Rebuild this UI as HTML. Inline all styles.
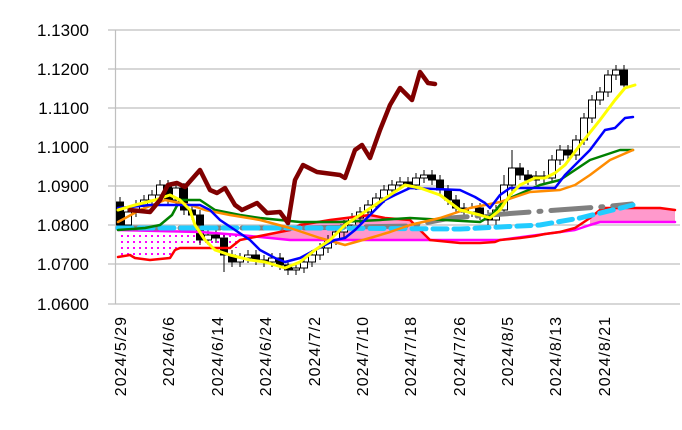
<!DOCTYPE html>
<html><head><meta charset="utf-8"><style>
body{margin:0;background:#fff}
svg{display:block}
text{font-family:"Liberation Sans",sans-serif;fill:#000}
</style></head><body>
<svg width="682" height="430" xmlns="http://www.w3.org/2000/svg">
<defs>
<pattern id="dots" width="6" height="6" patternUnits="userSpaceOnUse"><rect width="6" height="6" fill="#fff"/><rect x="1" y="1" width="2" height="2" fill="#ff00ff"/></pattern>
</defs>
<g stroke="#bfbfbf" stroke-width="1.2">
<line x1="108" y1="30" x2="680" y2="30"/><line x1="108" y1="69" x2="680" y2="69"/>
<line x1="108" y1="108" x2="680" y2="108"/><line x1="108" y1="147" x2="680" y2="147"/>
<line x1="108" y1="186" x2="680" y2="186"/><line x1="108" y1="225" x2="680" y2="225"/>
<line x1="108" y1="264" x2="680" y2="264"/><line x1="108" y1="304" x2="680" y2="304"/>
<line x1="115.5" y1="30" x2="115.5" y2="304"/>
</g>
<g font-size="17" text-anchor="end">
<text x="89" y="36">1.1300</text><text x="89" y="75">1.1200</text><text x="89" y="114">1.1100</text>
<text x="89" y="153">1.1000</text><text x="89" y="192">1.0900</text><text x="89" y="231">1.0800</text>
<text x="89" y="270">1.0700</text><text x="89" y="310">1.0600</text>
</g>
<g font-size="16" text-anchor="end" letter-spacing="1">
<text transform="translate(126,316) rotate(-90)">2024/5/29</text>
<text transform="translate(174,316) rotate(-90)">2024/6/6</text>
<text transform="translate(223,316) rotate(-90)">2024/6/14</text>
<text transform="translate(271,316) rotate(-90)">2024/6/24</text>
<text transform="translate(320,316) rotate(-90)">2024/7/2</text>
<text transform="translate(368,316) rotate(-90)">2024/7/10</text>
<text transform="translate(416,316) rotate(-90)">2024/7/18</text>
<text transform="translate(465,316) rotate(-90)">2024/7/26</text>
<text transform="translate(513,316) rotate(-90)">2024/8/5</text>
<text transform="translate(561,316) rotate(-90)">2024/8/13</text>
<text transform="translate(610,316) rotate(-90)">2024/8/21</text>
</g>
<polygon fill="url(#dots)" points="118,230 230,232 240,236 240,248 180,248 175,250 170,258 150,260 135,258 130,255 118,257"/>
<polygon fill="#ff99cc" points="240,236 260,236 290,230 300,225 330,220 370,215 385,218 410,220 430,240 355,240 290,240"/>
<polygon fill="#ff99cc" points="590,218 600,210 605,208 660,208 675,210 675,222 600,222 590,225"/>
<path stroke="#000" stroke-width="1" fill="none" d="M120 197V230M128 207V230M136 200V217M144 195V210M152 190V205M160 180V195M168 180V205M176 183V205M184 183V215M192 205V220M200 210V245M208 230V245M216 230V243M224 233V272M232 250V267M240 253V267M248 250V263M256 250V265M264 255V267M272 253V267M280 253V270M288 260V275M296 263V275M304 257V273M312 250V267M320 243V260M328 235V253M336 227V245M344 220V237M352 213V230M360 207V223M368 200V217M376 193V210M384 185V203M392 180V195M400 177V190M408 177V190M416 173V190M424 170V183M432 170V185M440 175V195M448 185V205M456 195V213M464 203V217M472 203V217M480 203V220M488 210V225M496 205V225M504 175V215M512 150V195M520 163V180M528 170V185M536 171V185M544 171V183M552 155V183M560 145V165M568 145V160M576 135V160M584 113V145M592 95V123M600 87V105M608 70V97M616 65V80M624 65V90"/>
<g stroke="#000" stroke-width="1">
<rect x="116.5" y="202" width="7" height="23" fill="#000"/>
<rect x="124.5" y="212" width="7" height="13" fill="#fff"/>
<rect x="132.5" y="205" width="7" height="7" fill="#fff"/>
<rect x="140.5" y="200" width="7" height="5" fill="#fff"/>
<rect x="148.5" y="195" width="7" height="5" fill="#fff"/>
<rect x="156.5" y="185" width="7" height="10" fill="#fff"/>
<rect x="164.5" y="185" width="7" height="15" fill="#000"/>
<rect x="172.5" y="188" width="7" height="12" fill="#fff"/>
<rect x="180.5" y="188" width="7" height="22" fill="#000"/>
<rect x="188.5" y="210" width="7" height="5" fill="#000"/>
<rect x="196.5" y="215" width="7" height="25" fill="#000"/>
<rect x="204.5" y="235" width="7" height="5" fill="#fff"/>
<rect x="212.5" y="235" width="7" height="3" fill="#000"/>
<rect x="220.5" y="238" width="7" height="17" fill="#000"/>
<rect x="228.5" y="255" width="7" height="7" fill="#000"/>
<rect x="236.5" y="258" width="7" height="4" fill="#fff"/>
<rect x="244.5" y="255" width="7" height="3" fill="#fff"/>
<rect x="252.5" y="255" width="7" height="5" fill="#000"/>
<rect x="260.5" y="260" width="7" height="2" fill="#000"/>
<rect x="268.5" y="258" width="7" height="4" fill="#fff"/>
<rect x="276.5" y="258" width="7" height="7" fill="#000"/>
<rect x="284.5" y="265" width="7" height="5" fill="#000"/>
<rect x="292.5" y="268" width="7" height="2" fill="#fff"/>
<rect x="300.5" y="262" width="7" height="6" fill="#fff"/>
<rect x="308.5" y="255" width="7" height="7" fill="#fff"/>
<rect x="316.5" y="248" width="7" height="7" fill="#fff"/>
<rect x="324.5" y="240" width="7" height="8" fill="#fff"/>
<rect x="332.5" y="232" width="7" height="8" fill="#fff"/>
<rect x="340.5" y="225" width="7" height="7" fill="#fff"/>
<rect x="348.5" y="218" width="7" height="7" fill="#fff"/>
<rect x="356.5" y="212" width="7" height="6" fill="#fff"/>
<rect x="364.5" y="205" width="7" height="7" fill="#fff"/>
<rect x="372.5" y="198" width="7" height="7" fill="#fff"/>
<rect x="380.5" y="190" width="7" height="8" fill="#fff"/>
<rect x="388.5" y="185" width="7" height="5" fill="#fff"/>
<rect x="396.5" y="182" width="7" height="3" fill="#fff"/>
<rect x="404.5" y="182" width="7" height="3" fill="#000"/>
<rect x="412.5" y="178" width="7" height="7" fill="#fff"/>
<rect x="420.5" y="175" width="7" height="3" fill="#fff"/>
<rect x="428.5" y="175" width="7" height="5" fill="#000"/>
<rect x="436.5" y="180" width="7" height="10" fill="#000"/>
<rect x="444.5" y="190" width="7" height="10" fill="#000"/>
<rect x="452.5" y="200" width="7" height="8" fill="#000"/>
<rect x="460.5" y="208" width="7" height="4" fill="#000"/>
<rect x="468.5" y="208" width="7" height="4" fill="#fff"/>
<rect x="476.5" y="208" width="7" height="7" fill="#000"/>
<rect x="484.5" y="215" width="7" height="5" fill="#000"/>
<rect x="492.5" y="210" width="7" height="10" fill="#fff"/>
<rect x="500.5" y="185" width="7" height="25" fill="#fff"/>
<rect x="508.5" y="168" width="7" height="17" fill="#fff"/>
<rect x="516.5" y="168" width="7" height="7" fill="#000"/>
<rect x="524.5" y="175" width="7" height="5" fill="#000"/>
<rect x="532.5" y="176" width="7" height="4" fill="#fff"/>
<rect x="540.5" y="176" width="7" height="2" fill="#000"/>
<rect x="548.5" y="160" width="7" height="18" fill="#fff"/>
<rect x="556.5" y="150" width="7" height="10" fill="#fff"/>
<rect x="564.5" y="150" width="7" height="5" fill="#000"/>
<rect x="572.5" y="140" width="7" height="15" fill="#fff"/>
<rect x="580.5" y="118" width="7" height="22" fill="#fff"/>
<rect x="588.5" y="100" width="7" height="18" fill="#fff"/>
<rect x="596.5" y="92" width="7" height="8" fill="#fff"/>
<rect x="604.5" y="75" width="7" height="17" fill="#fff"/>
<rect x="612.5" y="70" width="7" height="5" fill="#fff"/>
<rect x="620.5" y="70" width="7" height="15" fill="#000"/>
</g>
<g fill="none" stroke-linejoin="round" stroke-linecap="round">
<polyline stroke="#ff00ff" stroke-width="2.5" points="118,230 200,232 240,235 290,240 355,240 400,240 460,240 500,240 560,232 575,230 590,225 600,222 675,222"/>
<polyline stroke="#ff0000" stroke-width="2.5" points="118,257 130,255 135,258 150,260 170,258 175,250 180,248 230,248 240,240 260,236 290,230 300,225 330,220 370,215 385,218 410,220 430,240 460,243 480,243 495,242 500,240 520,238 535,236 545,234 560,232 575,228 590,218 600,210 605,208 660,208 675,210"/>
<polyline stroke="#808080" stroke-width="5" stroke-dasharray="40,10,2,10" points="118,228 300,228 410,226 450,218 530,212 600,207 632,204"/>
<polyline stroke="#22ccff" stroke-width="5" stroke-dasharray="14,7" points="118,228 300,228 460,229 540,225 580,218 633,205"/>
<polyline stroke="#008000" stroke-width="2.5" points="118,230 145,228 160,225 172,215 180,200 200,200 215,210 240,215 260,218 300,222 340,222 380,220 410,218 480,222 492,215 500,205 510,198 540,185 560,180 575,170 590,160 605,155 620,150 633,150"/>
<polyline stroke="#ff8c00" stroke-width="2.5" points="118,222 140,210 165,200 190,205 205,210 230,215 260,220 290,228 320,238 345,245 370,238 390,232 410,225 440,218 470,208 500,202 530,192 560,190 575,185 590,175 610,160 633,150"/>
<polyline stroke="#0000ff" stroke-width="2.5" points="118,208 130,207 150,205 200,205 210,210 220,220 235,230 250,240 260,250 275,258 285,262 300,258 315,250 335,240 345,238 355,230 365,220 375,210 385,200 395,195 410,188 460,190 475,197 485,203 490,208 500,195 510,188 555,188 565,175 575,165 590,150 605,130 615,128 625,118 633,117"/>
<polyline stroke="#ffff00" stroke-width="3" points="118,210 135,205 155,200 170,195 180,200 190,210 195,225 205,240 215,250 230,255 250,260 265,262 285,268 300,262 315,250 330,240 345,225 360,215 375,205 390,195 405,185 420,188 440,195 460,210 480,215 490,218 500,210 510,195 520,185 535,178 545,178 555,173 565,165 580,145 600,120 615,100 625,88 635,85"/>
<polyline stroke="#800000" stroke-width="4.5" points="130,210 150,212 160,200 168,185 177,183 185,187 200,170 210,190 217,193 225,188 235,205 242,210 257,203 267,213 280,212 288,223 295,180 303,165 317,172 340,175 345,178 355,150 362,145 370,158 380,130 390,105 400,88 407,95 412,100 420,72 428,83 435,84"/>
</g>
</svg>
</body></html>
